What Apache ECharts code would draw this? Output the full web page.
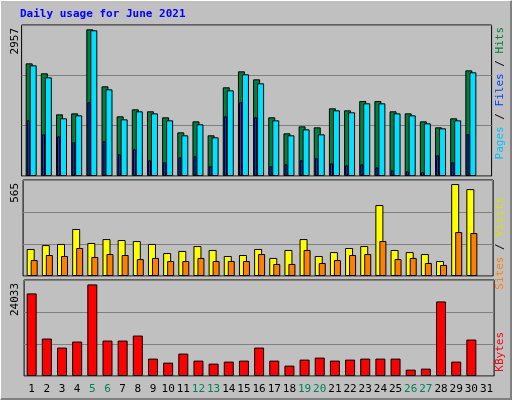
<!DOCTYPE html>
<html><head><meta charset="utf-8">
<script src="https://cdn.jsdelivr.net/npm/echarts@6/dist/echarts.min.js"></script>
<style>html,body{margin:0;padding:0;background:#c0c0c0}#c{width:512px;height:400px}</style>
</head><body><div id="c"></div>
<script>
const days = Array.from({length:31},(_,i)=>String(i+1));
const weekend = ['5','6','12','13','19','20','26','27'];
const hits = [2271,2070,1243,1263,2957,1808,1203,1344,1304,1183,880,1102,820,1788,2110,1949,1183,860,1001,981,1364,1324,1512,1512,1304,1263,1102,981,1163,2130,null];
const files = [2231,1989,1163,1223,2937,1747,1142,1304,1263,1122,820,1042,780,1727,2050,1868,1122,820,941,840,1324,1284,1465,1465,1263,1223,1062,961,1122,2090,null];
const pages = [1122,840,800,679,1485,699,437,538,316,276,376,396,195,1203,1485,1183,195,235,316,356,255,215,235,175,114,94,74,417,276,840,null];
const visits = [166,190,197,289,203,227,221,215,197,141,154,184,160,123,129,166,111,160,227,123,147,172,184,436,160,147,135,92,565,534,null];
const sites = [98,129,123,172,117,135,129,104,111,92,92,111,92,92,92,135,74,74,160,80,98,129,135,215,104,111,80,68,270,264,null];
const kbytes = [21665,9824,7455,9034,24033,9297,9297,10613,4561,3508,5877,4035,3245,3772,4035,7455,4035,2719,4298,4824,4035,4298,4561,4561,4561,1666,1930,19559,3772,9560,null];
const maxLabels = ['2957','565','24033'];

const ch = echarts.init(document.getElementById('c'));
const panels = [{top:25,h:151,max:3044},{top:180,h:96,max:590},{top:280,h:96,max:25190}];
const grids=[], xA=[], yA=[], series=[];
function addGrid(p, shift, main, showX){
  const gi = grids.length;
  grids.push({left:21+shift, width:470, top:panels[p].top, height:panels[p].h,
    show:main, borderColor:'#000', borderWidth:1, backgroundColor:'transparent', containLabel:false});
  xA.push({type:'category', gridIndex:gi, data:days, boundaryGap:true,
    axisLine:{show:false}, axisTick:{show:false}, splitLine:{show:false},
    axisLabel:{show:!!showX, interval:0, margin:8, fontFamily:'DejaVu Sans Mono', fontSize:11,
      color:(v)=>weekend.includes(v)?'#00805c':'#000'}});
  yA.push({type:'value', gridIndex:gi, min:0, max:panels[p].max, interval:panels[p].max/3,
    axisLine:{show:false}, axisTick:{show:false}, axisLabel:{show:false},
    splitLine:{show:main, lineStyle:{color:'#808080', width:1}}});
  return gi;
}
function bar(gi, data, color, w, z){
  series.push({type:'bar', xAxisIndex:gi, yAxisIndex:gi, data, barWidth:w, z,
    itemStyle:{color, borderColor:'#000', borderWidth:1}, animation:false});
}
let g;
g=addGrid(0,0.6,true); bar(g,hits,'#008040',7,2);
g=addGrid(0,4.6,false); bar(g,files,'#00e0ff',7,3);
g=addGrid(0,-0.3,false); bar(g,pages,'#0040ff',3,4);
g=addGrid(1,2.1,true); bar(g,visits,'#ffff00',8,2);
g=addGrid(1,5.6,false); bar(g,sites,'#ff8000',7,3);
g=addGrid(2,3.1,true,true); bar(g,kbytes,'#ff0000',10,2);

const mono='DejaVu Sans Mono';
const graphic=[
  {type:'rect', shape:{x:0.5,y:0.5,width:510,height:398}, style:{fill:'none',stroke:'#ffffff',lineWidth:1}, z:-1},
  {type:'polyline', shape:{points:[[511,1],[511,399],[1,399]]}, style:{stroke:'#808080',lineWidth:2,fill:'none'}},
  {type:'text', x:20, y:9, style:{text:'Daily usage for June 2021', font:'bold 11px '+mono, fill:'#0000ff'}},
];
panels.forEach((p,i)=>{
  graphic.push({type:'text', x:10, y:p.top+3, rotation:Math.PI/2,
    style:{text:maxLabels[i], font:'11px '+mono, fill:'#000', align:'right', verticalAlign:'top'}});
});
function rightLabel(y, parts){
  graphic.push({type:'text', x:495, y, rotation:Math.PI/2,
    style:{rich:Object.fromEntries(parts.map((p,i)=>['s'+i,{fill:p[1],font:'11px '+mono}])),
      text:parts.map((p,i)=>'{s'+i+'|'+p[0]+'}').join(''), align:'right', verticalAlign:'top'}});
}
rightLabel(27, [['Pages','#00c0ff'],[' / ','#000'],['Files','#0040ff'],[' / ','#000'],['Hits','#008040']]);
rightLabel(197, [['Sites','#ff8000'],[' / ','#000'],['Visits','#e0e000']]);
rightLabel(332, [['KBytes','#ff0000']]);

ch.setOption({backgroundColor:'#c0c0c0', animation:false, grid:grids, xAxis:xA, yAxis:yA, series, graphic});
</script></body></html>
